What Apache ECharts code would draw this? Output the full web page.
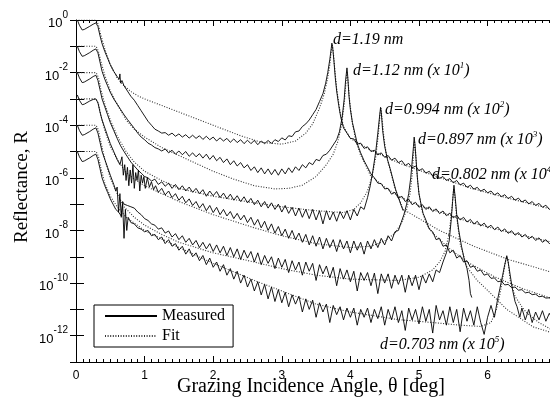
<!DOCTYPE html>
<html>
<head>
<meta charset="utf-8">
<script src="https://cdn.jsdelivr.net/npm/echarts@6.0.0/dist/echarts.min.js"></script>
<style>html,body{margin:0;padding:0;background:#fff;}#chart{width:550px;height:400px;}</style>
</head>
<body>
<div id="chart"></div>
<script>
// Values are [grazing angle in deg, log10(Reflectance)].
const meas1 = [[0.02,0],[0.05,-0.2],[0.09,-0.38],[0.12,-0.36],[0.16,-0.3],[0.2,-0.24],[0.25,-0.16],[0.29,-0.11],[0.32,-0.25],[0.35,-0.6],[0.38,-0.9],[0.42,-1.2],[0.46,-1.45],[0.5,-1.7],[0.55,-1.95],[0.6,-2.15],[0.63,-2.25],[0.64,-2.05],[0.65,-2.4],[0.67,-2.3],[0.7,-2.5],[0.75,-2.7],[0.8,-2.9],[0.85,-3.05],[0.9,-3.25],[0.95,-3.45],[1.0,-3.65],[1.05,-3.85],[1.1,-4.0],[1.15,-4.15],[1.2,-4.22],[1.25,-4.3],
[1.3,-4.28],[1.35,-4.38],[1.4,-4.3],[1.45,-4.42],[1.5,-4.33],[1.55,-4.45],[1.6,-4.36],[1.65,-4.49],[1.7,-4.38],[1.75,-4.5],[1.8,-4.4],[1.85,-4.54],[1.9,-4.42],[1.95,-4.55],[2.0,-4.45],[2.05,-4.6],[2.1,-4.48],[2.15,-4.6],[2.2,-4.5],[2.25,-4.65],[2.3,-4.52],[2.35,-4.66],[2.4,-4.55],[2.45,-4.7],[2.5,-4.57],[2.55,-4.7],[2.6,-4.58],[2.65,-4.74],[2.7,-4.6],[2.75,-4.7],[2.8,-4.58],[2.85,-4.69],[2.9,-4.55],[2.95,-4.62],[3.0,-4.48],[3.05,-4.56],[3.1,-4.4],[3.15,-4.43],[3.2,-4.25],[3.25,-4.22],[3.3,-4.05],[3.35,-3.95],[3.4,-3.8],[3.45,-3.6],[3.5,-3.4],[3.55,-3.1],[3.6,-2.8],[3.64,-2.4],[3.67,-2.0],[3.7,-1.5],[3.72,-1.1],[3.73,-0.88],[3.74,-1.0],[3.76,-1.55],[3.78,-2.2],[3.8,-2.7],[3.83,-3.25],[3.86,-3.7],[3.9,-4.1],[3.95,-4.3],[4.0,-4.5],[4.05,-4.52],[4.1,-4.72],[4.15,-4.68],[4.2,-4.88],[4.25,-4.82],[4.3,-5.0],[4.35,-4.95],[4.4,-5.13],[4.45,-5.05],[4.5,-5.22],[4.55,-5.15],[4.6,-5.33],[4.65,-5.25],[4.7,-5.42],[4.75,-5.35],[4.8,-5.53],[4.85,-5.45],[4.9,-5.62],[4.95,-5.55],[5.0,-5.73],[5.05,-5.65],[5.1,-5.82],[5.15,-5.75],[5.2,-5.93],[5.25,-5.85],[5.3,-6.02],[5.35,-5.95],[5.4,-6.1],[5.45,-6.03],[5.5,-6.19],[5.55,-6.1],[5.6,-6.27],[5.65,-6.2],[5.7,-6.36],[5.75,-6.28],[5.8,-6.43],[5.85,-6.36],[5.9,-6.51],[5.95,-6.43],[6.0,-6.57],[6.05,-6.5],[6.1,-6.65],[6.15,-6.57],[6.2,-6.72],[6.25,-6.64],[6.3,-6.79],[6.35,-6.7],[6.4,-6.85],[6.45,-6.77],[6.5,-6.92],[6.55,-6.84],[6.6,-6.99],[6.65,-6.9],[6.7,-7.05],[6.75,-6.97],[6.8,-7.12],[6.85,-7.04],[6.9,-7.2],[6.95,-7.12]];

const meas2 = [[0.02,-1.0],[0.05,-1.2],[0.09,-1.38],[0.12,-1.36],[0.16,-1.3],[0.2,-1.24],[0.25,-1.15],[0.29,-1.1],[0.32,-1.25],[0.35,-1.6],[0.38,-1.95],[0.42,-2.25],[0.46,-2.5],[0.5,-2.75],[0.55,-3.0],[0.6,-3.2],[0.65,-3.4],[0.7,-3.6],[0.75,-3.78],[0.8,-3.95],[0.85,-4.12],[0.9,-4.3],[0.95,-4.45],[1.0,-4.55],[1.05,-4.68],[1.1,-4.75],[1.15,-4.85],[1.2,-4.9],
[1.25,-4.98],[1.3,-4.9],[1.35,-5.05],[1.4,-4.95],[1.45,-5.1],[1.5,-4.98],[1.55,-5.12],[1.6,-5.0],[1.65,-5.18],[1.7,-5.05],[1.75,-5.2],[1.8,-5.08],[1.85,-5.25],[1.9,-5.1],[1.95,-5.3],[2.0,-5.15],[2.05,-5.35],[2.1,-5.22],[2.15,-5.42],[2.2,-5.28],[2.25,-5.5],[2.3,-5.35],[2.35,-5.55],[2.4,-5.42],[2.45,-5.62],[2.5,-5.5],[2.55,-5.72],[2.6,-5.58],[2.65,-5.8],[2.7,-5.62],[2.75,-5.85],[2.8,-5.66],[2.85,-5.88],[2.9,-5.68],[2.95,-5.9],[3.0,-5.66],[3.05,-5.85],[3.1,-5.62],[3.15,-5.8],[3.2,-5.58],[3.25,-5.72],[3.3,-5.5],[3.35,-5.62],[3.4,-5.42],[3.45,-5.5],[3.5,-5.3],[3.55,-5.35],[3.6,-5.15],[3.65,-5.1],[3.7,-4.95],[3.75,-4.75],[3.8,-4.55],[3.84,-4.25],[3.88,-3.7],[3.91,-3.0],[3.93,-2.3],[3.95,-1.82],[3.96,-2.1],[3.98,-2.9],[4.0,-3.4],[4.03,-3.9],[4.07,-4.35],[4.1,-4.7],[4.15,-5.05],[4.2,-5.35],[4.25,-5.6],[4.3,-5.85],[4.35,-6.0],[4.4,-6.2],[4.45,-6.22],[4.5,-6.42],[4.55,-6.4],[4.6,-6.62],[4.65,-6.55],[4.7,-6.78],[4.75,-6.7],[4.8,-6.9],[4.85,-6.82],[4.9,-7.02],[4.95,-6.93],[5.0,-7.12],[5.05,-7.02],[5.1,-7.2],[5.15,-7.1],[5.2,-7.28],[5.25,-7.18],[5.3,-7.36],[5.35,-7.26],[5.4,-7.44],[5.45,-7.34],[5.5,-7.52],[5.55,-7.42],[5.6,-7.6],[5.65,-7.5],[5.7,-7.68],[5.75,-7.58],[5.8,-7.76],[5.85,-7.65],[5.9,-7.83],[5.95,-7.72],[6.0,-7.9],[6.05,-7.8],[6.1,-7.97],[6.15,-7.87],[6.2,-8.04],[6.25,-7.94],[6.3,-8.11],[6.35,-8.01],[6.4,-8.18],[6.45,-8.08],[6.5,-8.25],[6.55,-8.15],[6.6,-8.32],[6.65,-8.22],[6.7,-8.38],[6.75,-8.28],[6.8,-8.45],[6.85,-8.35],[6.9,-8.5],[6.95,-8.42]];

const meas3 = [[0.02,-2.0],[0.05,-2.2],[0.09,-2.38],[0.12,-2.36],[0.16,-2.3],[0.2,-2.24],[0.25,-2.15],[0.29,-2.1],[0.32,-2.3],[0.35,-2.65],[0.38,-3.0],[0.42,-3.3],[0.46,-3.6],[0.5,-3.9],[0.55,-4.2],[0.6,-4.5],[0.65,-4.78],[0.7,-5.0],[0.75,-5.2],[0.8,-5.4],[0.85,-5.55],[0.9,-5.7],[0.95,-5.82],[1.0,-5.95],
[1.05,-6.0],[1.1,-6.12],[1.15,-6.05],[1.2,-6.25],[1.25,-6.15],[1.3,-6.32],[1.35,-6.2],[1.4,-6.4],[1.45,-6.25],[1.5,-6.45],[1.55,-6.3],[1.6,-6.5],[1.65,-6.35],[1.7,-6.55],[1.75,-6.4],[1.8,-6.6],[1.85,-6.45],[1.9,-6.7],[1.95,-6.5],[2.0,-6.68],[2.05,-6.52],[2.1,-6.75],[2.15,-6.58],[2.2,-6.8],[2.25,-6.62],[2.3,-6.85],[2.35,-6.68],[2.4,-6.9],[2.45,-6.72],[2.5,-6.95],[2.55,-6.78],[2.6,-7.02],[2.65,-6.85],[2.7,-7.1],[2.75,-6.9],[2.8,-7.15],[2.85,-6.95],[2.9,-7.2],[2.95,-7.0],[3.0,-7.3],[3.05,-7.05],[3.1,-7.35],[3.15,-7.12],[3.2,-7.45],[3.25,-7.15],[3.3,-7.5],[3.35,-7.2],[3.4,-7.55],[3.45,-7.2],[3.5,-7.6],[3.55,-7.25],[3.6,-7.75],[3.65,-7.25],[3.7,-7.6],[3.75,-7.3],[3.8,-7.65],[3.85,-7.28],[3.9,-7.55],[3.95,-7.25],[4.0,-7.6],[4.05,-7.2],[4.1,-7.45],[4.15,-7.1],[4.2,-7.2],[4.25,-6.75],[4.29,-6.3],[4.33,-5.7],[4.37,-5.0],[4.4,-4.3],[4.42,-3.8],[4.44,-3.32],[4.45,-3.5],[4.47,-4.2],[4.5,-4.8],[4.54,-5.3],[4.58,-5.65],[4.62,-6.05],[4.66,-6.45],[4.7,-6.75],[4.74,-7.05],[4.77,-7.25]];

const meas4 = [[0.02,-2.85],[0.05,-3.05],[0.09,-3.22],[0.12,-3.2],[0.16,-3.14],[0.2,-3.08],[0.25,-3.02],[0.29,-3.0],[0.32,-3.15],[0.35,-3.5],[0.38,-3.8],[0.42,-4.1],[0.46,-4.4],[0.5,-4.7],[0.55,-5.0],[0.6,-5.3],[0.64,-5.5],[0.67,-5.2],[0.69,-5.9],[0.71,-5.5],[0.73,-6.1],[0.75,-5.6],[0.77,-6.3],[0.79,-5.7],[0.81,-6.2],[0.83,-5.5],[0.85,-6.4],[0.87,-5.8],[0.89,-6.1],[0.91,-5.7],[0.93,-6.5],[0.95,-5.9],[0.97,-6.2],[0.99,-5.95],[1.01,-6.4],[1.04,-6.0],[1.07,-6.35],[1.1,-6.15],[1.13,-6.45],[1.16,-6.3],
[1.2,-6.55],[1.25,-6.4],[1.3,-6.65],[1.35,-6.5],[1.4,-6.75],[1.45,-6.6],[1.5,-6.85],[1.55,-6.7],[1.6,-6.95],[1.65,-6.8],[1.7,-7.05],[1.75,-6.9],[1.8,-7.15],[1.85,-6.98],[1.9,-7.25],[1.95,-7.05],[2.0,-7.32],[2.05,-7.12],[2.1,-7.4],[2.15,-7.2],[2.2,-7.45],[2.25,-7.28],[2.3,-7.55],[2.35,-7.35],[2.4,-7.6],[2.45,-7.42],[2.5,-7.7],[2.55,-7.5],[2.6,-7.8],[2.65,-7.58],[2.7,-7.9],[2.75,-7.65],[2.8,-8.0],[2.85,-7.75],[2.9,-8.1],[2.95,-7.85],[3.0,-8.2],[3.05,-7.95],[3.1,-8.3],[3.15,-8.0],[3.2,-8.35],[3.25,-8.1],[3.3,-8.45],[3.35,-8.15],[3.4,-8.55],[3.45,-8.2],[3.5,-8.6],[3.55,-8.25],[3.6,-8.7],[3.65,-8.3],[3.7,-8.65],[3.75,-8.35],[3.8,-8.8],[3.85,-8.35],[3.9,-8.7],[3.95,-8.4],[4.0,-8.85],[4.05,-8.4],[4.1,-8.75],[4.15,-8.45],[4.2,-8.9],[4.25,-8.4],[4.3,-8.7],[4.35,-8.35],[4.4,-8.65],[4.45,-8.3],[4.5,-8.55],[4.55,-8.2],[4.6,-8.4],[4.65,-8.05],[4.7,-8.0],[4.74,-7.7],[4.78,-7.4],[4.82,-7.0],[4.85,-6.6],[4.88,-6.0],[4.9,-5.4],[4.92,-4.8],[4.93,-4.45],[4.94,-4.7],[4.96,-5.4],[4.98,-6.1],[5.0,-6.6],[5.03,-7.0],[5.06,-7.35],[5.1,-7.6],[5.15,-7.95],[5.2,-8.05],[5.25,-8.35],[5.3,-8.3],[5.35,-8.6],[5.4,-8.55],[5.45,-8.85],[5.5,-8.75],[5.55,-9.05],[5.6,-8.95],[5.65,-9.2],[5.7,-9.15],[5.75,-9.4],[5.8,-9.35],[5.85,-9.55],[5.9,-9.5],[5.95,-9.7],[6.0,-9.65],[6.05,-9.82],[6.1,-9.8],[6.15,-9.95],[6.2,-9.92],[6.25,-10.07],[6.3,-10.05],[6.35,-10.17],[6.4,-10.15],[6.45,-10.27],[6.5,-10.25],[6.55,-10.37],[6.6,-10.35],[6.65,-10.44],[6.7,-10.42],[6.75,-10.52],[6.8,-10.5],[6.85,-10.57],[6.9,-10.56],[6.95,-10.62]];

const meas5 = [[0.02,-4.0],[0.05,-4.2],[0.09,-4.38],[0.12,-4.36],[0.16,-4.3],[0.2,-4.24],[0.25,-4.15],[0.29,-4.1],[0.32,-4.3],[0.35,-4.65],[0.38,-5.0],[0.42,-5.3],[0.46,-5.6],[0.5,-5.9],[0.55,-6.25],[0.58,-6.5],[0.6,-6.35],[0.62,-7.3],[0.64,-6.6],[0.66,-7.5],[0.68,-6.9],[0.7,-7.0],[0.75,-7.05],[0.8,-7.1],[0.85,-7.15],[0.9,-7.3],[0.95,-7.4],[1.0,-7.55],[1.05,-7.62],[1.1,-7.75],
[1.15,-7.8],[1.2,-7.95],[1.25,-7.9],[1.3,-8.1],[1.35,-8.02],[1.4,-8.25],[1.45,-8.12],[1.5,-8.35],[1.55,-8.2],[1.6,-8.45],[1.65,-8.3],[1.7,-8.55],[1.75,-8.38],[1.8,-8.65],[1.85,-8.45],[1.9,-8.7],[1.95,-8.5],[2.0,-8.8],[2.05,-8.55],[2.1,-8.85],[2.15,-8.6],[2.2,-8.95],[2.25,-8.65],[2.3,-9.0],[2.35,-8.7],[2.4,-9.1],[2.45,-8.75],[2.5,-9.05],[2.55,-8.8],[2.6,-9.2],[2.65,-8.85],[2.7,-9.3],[2.75,-8.95],[2.8,-9.25],[2.85,-9.0],[2.9,-9.45],[2.95,-9.05],[3.0,-9.4],[3.05,-9.1],[3.1,-9.6],[3.15,-9.15],[3.2,-9.5],[3.25,-9.2],[3.3,-9.7],[3.35,-9.2],[3.4,-9.55],[3.45,-9.25],[3.5,-9.9],[3.55,-9.3],[3.6,-9.65],[3.65,-9.35],[3.7,-9.8],[3.75,-9.4],[3.8,-10.1],[3.85,-9.45],[3.9,-9.85],[3.95,-9.5],[4.0,-9.95],[4.05,-9.55],[4.1,-10.3],[4.15,-9.6],[4.2,-9.9],[4.25,-9.6],[4.3,-10.1],[4.35,-9.62],[4.4,-10.4],[4.45,-9.65],[4.5,-10.0],[4.55,-9.65],[4.6,-10.2],[4.65,-9.7],[4.7,-10.05],[4.75,-9.7],[4.8,-10.35],[4.85,-9.7],[4.9,-10.1],[4.95,-9.7],[5.0,-10.25],[5.05,-9.7],[5.1,-10.0],[5.15,-9.65],[5.2,-9.95],[5.25,-9.5],[5.3,-9.6],[5.35,-9.2],[5.4,-8.85],[5.44,-8.4],[5.47,-7.6],[5.49,-6.9],[5.51,-6.28],[5.53,-6.8],[5.55,-7.4],[5.58,-8.0],[5.62,-8.6],[5.66,-9.1],[5.7,-9.45],[5.73,-9.9],[5.75,-10.4],[5.77,-10.55]];

const meas6 = [[0.02,-5.0],[0.05,-5.2],[0.09,-5.38],[0.12,-5.36],[0.16,-5.3],[0.2,-5.24],[0.25,-5.15],[0.29,-5.1],[0.32,-5.3],[0.35,-5.65],[0.38,-6.0],[0.42,-6.3],[0.46,-6.55],[0.5,-6.8],[0.54,-7.0],[0.58,-7.2],[0.62,-7.3],[0.66,-7.45],[0.68,-7.0],[0.7,-8.3],[0.72,-7.2],[0.74,-8.0],[0.76,-7.5],[0.8,-7.7],[0.85,-7.75],[0.9,-7.9],[0.95,-7.95],
[1.0,-8.05],[1.05,-8.0],[1.1,-8.2],[1.15,-8.15],[1.2,-8.35],[1.25,-8.25],[1.3,-8.5],[1.35,-8.35],[1.4,-8.6],[1.45,-8.5],[1.5,-8.75],[1.55,-8.6],[1.6,-8.9],[1.65,-8.7],[1.7,-9.0],[1.75,-8.85],[1.8,-9.15],[1.85,-8.95],[1.9,-9.3],[1.95,-9.05],[2.0,-9.4],[2.05,-9.2],[2.1,-9.55],[2.15,-9.3],[2.2,-9.7],[2.25,-9.45],[2.3,-9.85],[2.35,-9.55],[2.4,-10.0],[2.45,-9.7],[2.5,-10.15],[2.55,-9.85],[2.6,-10.3],[2.65,-9.95],[2.7,-10.45],[2.75,-10.05],[2.8,-10.6],[2.85,-10.15],[2.9,-10.7],[2.95,-10.25],[3.0,-10.75],[3.05,-10.35],[3.1,-10.9],[3.15,-10.45],[3.2,-10.8],[3.25,-10.5],[3.3,-11.1],[3.35,-10.6],[3.4,-11.0],[3.45,-10.65],[3.5,-11.3],[3.55,-10.75],[3.6,-11.1],[3.65,-10.8],[3.7,-11.5],[3.75,-10.85],[3.8,-11.2],[3.85,-10.9],[3.9,-11.4],[3.95,-10.95],[4.0,-11.3],[4.05,-10.95],[4.1,-11.6],[4.15,-11.0],[4.2,-11.3],[4.25,-10.95],[4.3,-11.5],[4.35,-11.0],[4.4,-11.35],[4.45,-10.9],[4.5,-11.6],[4.55,-11.0],[4.6,-11.4],[4.65,-10.9],[4.7,-11.5],[4.75,-11.05],[4.8,-11.8],[4.85,-10.95],[4.9,-11.4],[4.95,-11.0],[5.0,-11.55],[5.05,-10.9],[5.1,-11.45],[5.15,-11.0],[5.2,-11.9],[5.25,-10.85],[5.3,-11.4],[5.35,-11.05],[5.4,-11.6],[5.45,-10.9],[5.5,-11.5],[5.55,-11.0],[5.6,-11.85],[5.65,-10.95],[5.7,-11.45],[5.75,-11.05],[5.8,-11.6],[5.85,-10.9],[5.9,-11.5],[5.95,-11.95],[6.0,-11.3],[6.05,-10.85],[6.1,-11.3],[6.14,-10.7],[6.18,-10.2],[6.22,-9.7],[6.25,-9.3],[6.28,-8.96],[6.3,-9.2],[6.33,-9.7],[6.36,-10.2],[6.4,-10.7],[6.43,-10.9],[6.47,-11.3],[6.5,-10.95],[6.55,-11.4],[6.6,-11.0],[6.65,-11.5],[6.7,-11.1],[6.75,-11.4],[6.8,-11.05],[6.85,-11.45],[6.9,-11.15],[6.95,-11.4]];

const fit1 = [[0,0],[0.29,0],[0.31,-0.08],[0.33,-0.22],[0.36,-0.55],[0.42,-1.1],[0.5,-1.7],[0.6,-2.2],[0.7,-2.5],[0.8,-2.72],[0.9,-2.88],[1.0,-3.0],[1.2,-3.2],[1.5,-3.5],[1.8,-3.8],[2.1,-4.1],[2.4,-4.4],[2.7,-4.65],[3.0,-4.72],[3.2,-4.6],[3.35,-4.3],[3.45,-3.95],[3.55,-3.35],[3.62,-2.8],[3.67,-2.2],[3.7,-1.7],[3.72,-1.2],[3.735,-0.95],[3.75,-1.2],[3.77,-1.8],[3.8,-2.6],[3.85,-3.5],[3.9,-4.05],[4.0,-4.5],[4.3,-4.95],[4.72,-5.45],[5.26,-5.95],[5.74,-6.38],[6.22,-6.72],[6.95,-7.2]];
const fit2 = [[0,-1],[0.29,-1],[0.31,-1.08],[0.33,-1.22],[0.36,-1.55],[0.42,-2.1],[0.5,-2.7],[0.6,-3.2],[0.73,-3.8],[0.85,-4.15],[1.0,-4.45],[1.25,-4.85],[1.5,-5.15],[1.75,-5.45],[2.0,-5.75],[2.3,-6.05],[2.6,-6.3],[2.9,-6.42],[3.1,-6.4],[3.3,-6.28],[3.5,-5.95],[3.65,-5.5],[3.75,-5.1],[3.82,-4.6],[3.87,-4.0],[3.91,-3.2],[3.935,-2.4],[3.95,-1.95],[3.965,-2.3],[3.99,-3.1],[4.03,-3.95],[4.08,-4.6],[4.15,-5.15],[4.22,-5.5],[4.29,-5.9],[4.5,-6.35],[4.72,-6.72],[5.0,-7.05],[5.4,-7.38],[5.74,-7.68],[6.2,-8.0],[6.95,-8.45]];
const fit3 = [[0,-2],[0.29,-2],[0.31,-2.08],[0.33,-2.22],[0.36,-2.6],[0.42,-3.2],[0.5,-3.8],[0.6,-4.4],[0.73,-5.0],[0.85,-5.4],[1.0,-5.75],[1.25,-6.1],[1.5,-6.4],[2.0,-6.7],[2.6,-6.95],[3.0,-7.1],[3.5,-7.25],[3.9,-7.32],[4.05,-7.2],[4.15,-6.95],[4.25,-6.5],[4.32,-5.9],[4.37,-5.2],[4.41,-4.3],[4.435,-3.5],[4.445,-3.35],[4.46,-3.7],[4.49,-4.5],[4.53,-5.2],[4.58,-5.7],[4.65,-6.4],[4.77,-7.2],[4.87,-7.35],[5.3,-8.0],[5.8,-8.6],[6.3,-9.1],[6.95,-9.6]];
const fit4 = [[0,-3],[0.29,-3],[0.31,-3.08],[0.33,-3.22],[0.36,-3.6],[0.42,-4.2],[0.5,-4.8],[0.6,-5.3],[0.73,-5.8],[0.85,-6.05],[1.0,-6.3],[1.25,-6.6],[1.5,-6.9],[2.0,-7.4],[2.6,-7.9],[3.0,-8.2],[3.5,-8.5],[4.0,-8.65],[4.3,-8.6],[4.5,-8.4],[4.65,-8.1],[4.75,-7.7],[4.82,-7.2],[4.87,-6.6],[4.9,-5.9],[4.92,-5.1],[4.935,-4.6],[4.95,-5.0],[4.97,-5.8],[5.0,-6.6],[5.05,-7.3],[5.12,-7.8],[5.2,-8.1],[5.45,-8.7],[5.7,-9.2],[6.1,-9.76],[6.5,-10.2],[6.95,-10.6]];
const fit5 = [[0,-4],[0.29,-4],[0.31,-4.08],[0.33,-4.22],[0.36,-4.6],[0.42,-5.3],[0.5,-6.0],[0.6,-6.6],[0.7,-7.1],[0.85,-7.5],[1.0,-7.8],[1.25,-8.15],[1.5,-8.45],[2.0,-8.85],[2.6,-9.2],[3.0,-9.45],[3.5,-9.7],[4.0,-9.85],[4.7,-9.9],[5.0,-9.78],[5.2,-9.5],[5.3,-9.2],[5.38,-8.8],[5.44,-8.1],[5.48,-7.2],[5.505,-6.4],[5.52,-6.6],[5.55,-7.5],[5.6,-8.5],[5.7,-9.4],[5.85,-9.9],[5.99,-10.25],[6.28,-11.0],[6.66,-11.66],[6.95,-11.9]];
const fit6 = [[0,-5],[0.29,-5],[0.31,-5.08],[0.33,-5.22],[0.36,-5.6],[0.42,-6.2],[0.5,-6.7],[0.6,-7.1],[0.73,-7.5],[1.0,-8.0],[1.5,-8.65],[2.0,-9.25],[2.6,-9.9],[3.0,-10.3],[3.5,-10.8],[4.0,-11.1],[4.7,-11.39],[5.2,-11.5],[5.6,-11.6],[5.9,-11.65],[6.05,-11.5],[6.13,-11.0],[6.19,-10.3],[6.24,-9.5],[6.275,-9.0],[6.3,-9.2],[6.33,-9.9],[6.4,-10.5],[6.5,-10.9],[6.57,-11.13],[6.75,-11.5],[6.95,-11.8]];

const xTickLabels = ['0','1','2','3','4','5','6'];
const peakLabels = [
  {d:'d=1.19 nm', p:''},
  {d:'d=1.12 nm (x 10', p:'1'},
  {d:'d=0.994 nm (x 10', p:'2'},
  {d:'d=0.897 nm (x 10', p:'3'},
  {d:'d=0.802 nm (x 10', p:'4'},
  {d:'d=0.703 nm (x 10', p:'5'}
];
const legendNames = ['Measured','Fit'];

const SERIF = "'Liberation Serif','Times New Roman',serif";
const SANS = "'Liberation Sans',Arial,sans-serif";
const toData = a => a.map(p => [p[0], Math.pow(10, p[1])]);

const series = [];
[meas1,meas2,meas3,meas4,meas5,meas6].forEach(a => series.push({
  name: legendNames[0], type: 'line', data: toData(a), symbol: 'none', z: 3,
  lineStyle: {color: '#000', width: 0.9}, itemStyle: {color: '#000'}
}));
[fit1,fit2,fit3,fit4,fit5,fit6].forEach(a => series.push({
  name: legendNames[1], type: 'line', data: toData(a), symbol: 'none', z: 2,
  lineStyle: {color: '#333', width: 1.1, type: [1, 1.6]}, itemStyle: {color: '#333'}
}));

const labelPos = [[333,32],[353,61],[385,100],[418,130],[432,165],[380,335]];
const graphics = peakLabels.map((l, i) => ({
  type: 'text', left: labelPos[i][0], top: labelPos[i][1], z: 10,
  style: {
    text: l.p ? '{a|' + l.d + '}{s|' + l.p + '}{a|)}' : '{a|' + l.d + '}',
    rich: {
      a: {fontFamily: SERIF, fontStyle: 'italic', fontSize: 16, lineHeight: 18, verticalAlign: 'bottom'},
      s: {fontFamily: SERIF, fontStyle: 'italic', fontSize: 9, lineHeight: 18, verticalAlign: 'top'}
    },
    fill: '#000'
  }
}));
graphics.push({
  type: 'text', left: 177, top: 377, z: 10,
  style: {text: 'Grazing Incidence Angle, \u03b8 [deg]', fontFamily: SERIF, fontSize: 20, fill: '#000'}
});
graphics.push({
  type: 'text', x: 13, y: 243, rotation: Math.PI / 2, z: 10,
  style: {text: 'Reflectance, R', fontFamily: SERIF, fontSize: 19, fill: '#000', textAlign: 'left', textVerticalAlign: 'top'}
});

const chart = echarts.init(document.getElementById('chart'), null, {renderer: 'canvas'});
const commonX = {
  type: 'value', min: 0, max: 6.91, interval: 1,
  axisLine: {show: true, lineStyle: {color: '#000', width: 1}},
  axisTick: {show: true, inside: true, length: 6, lineStyle: {color: '#000'}},
  minorTick: {show: true, splitNumber: 10, length: 3, lineStyle: {color: '#000'}},
  splitLine: {show: false}
};
const commonY = {
  type: 'log', logBase: 10, min: 1e-13, max: 1, interval: 1,
  axisLine: {show: true, lineStyle: {color: '#000', width: 1}},
  axisTick: {show: true, inside: true, length: 8, lineStyle: {color: '#000'}},
  splitLine: {show: false}, minorTick: {show: false}
};
chart.setOption({
  animation: false,
  backgroundColor: '#fff',
  grid: {left: 76, top: 20, right: 0, height: 342, containLabel: false},
  xAxis: [
    Object.assign({}, commonX, {position: 'bottom',
      axisLabel: {show: true, margin: 8, fontFamily: SANS, fontSize: 12, color: '#000', showMaxLabel: false,
        formatter: v => { const i = Math.round(v); return (Math.abs(v - i) < 1e-6 && i >= 0 && i < xTickLabels.length) ? xTickLabels[i] : ''; }}}),
    Object.assign({}, commonX, {position: 'top', axisLabel: {show: false}})
  ],
  yAxis: [
    Object.assign({}, commonY, {position: 'left',
      axisLabel: {show: true, margin: 8, color: '#000',
        formatter: v => { const e = Math.round(Math.log10(v)); if (e % 2 !== 0) return ''; return '{b|10}{s|' + e + '}'; },
        rich: {
          b: {fontFamily: SANS, fontSize: 13, lineHeight: 20, verticalAlign: 'bottom', color: '#000'},
          s: {fontFamily: SANS, fontSize: 10, lineHeight: 20, verticalAlign: 'top', color: '#000'}
        }}}),
    Object.assign({}, commonY, {position: 'right', axisLine: {show: false},
      axisTick: {show: true, inside: true, length: 6, lineStyle: {color: '#000'}},
      axisLabel: {show: false}})
  ],
  legend: {
    show: true, data: legendNames, orient: 'vertical', left: 94, top: 305,
    padding: [3, 8, 3, 10], itemGap: 4, itemWidth: 52, itemHeight: 14,
    borderColor: '#000', borderWidth: 1, backgroundColor: '#fff',
    itemStyle: {opacity: 0},
    textStyle: {fontFamily: SERIF, fontSize: 16, color: '#000'},
    selectedMode: false
  },
  graphic: graphics,
  series: series
});
</script>
</body>
</html>
